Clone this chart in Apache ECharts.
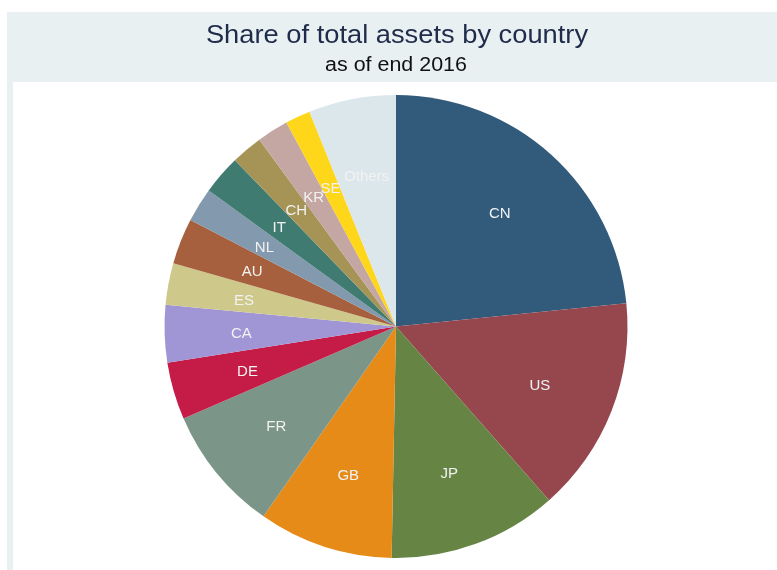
<!DOCTYPE html>
<html>
<head>
<meta charset="utf-8">
<script src="https://cdn.jsdelivr.net/npm/echarts@6/dist/echarts.min.js"></script>
<style>
  html, body { margin: 0; padding: 0; background: #ffffff; }
  #chart { width: 777px; height: 570px; }
</style>
</head>
<body>
<div id="chart"></div>
<script>
// Country codes, clockwise from 12 o'clock
const countries = ['CN', 'US', 'JP', 'GB', 'FR', 'DE', 'CA', 'ES', 'AU', 'NL', 'IT', 'CH', 'KR', 'SE', 'Others'];
// Share of total assets (%), end 2016
const shares = [23.4, 15.1, 11.8, 9.4, 8.8, 4.0, 4.0, 2.9, 3.2, 2.4, 2.75, 2.2, 2.2, 1.75, 6.1];
const sliceColors = ['#315a7b', '#96474e', '#668443', '#e68b17', '#7b9689', '#c41c46', '#a096d6',
                     '#cec98b', '#a6603e', '#8399ae', '#407b71', '#a69456', '#c4a7a3', '#fed61a', '#dce7ec'];

const titleText = 'Share of total assets by country';
const subtitleText = 'as of end 2016';

const pieData = countries.map((c, i) => ({ name: c, value: shares[i] }));

const cx = 396, cy = 326.5, R = 231.5;
const band = '#e8f0f2';

const chart = echarts.init(document.getElementById('chart'), null, { renderer: 'canvas' });
chart.setOption({
  animation: false,
  backgroundColor: '#ffffff',
  color: sliceColors,
  graphic: [
    { type: 'rect', z: -10, shape: { x: 7, y: 12, width: 770, height: 70 }, style: { fill: band } },
    { type: 'rect', z: -10, shape: { x: 7, y: 82, width: 6, height: 488 }, style: { fill: band } },
    {
      type: 'text', x: 397, y: 36, scaleX: 1.07,
      style: {
        text: titleText, fill: '#1f2b4a', font: '25.5px "Liberation Sans", Arial, sans-serif',
        textAlign: 'center', textVerticalAlign: 'middle'
      }
    },
    {
      type: 'text', x: 396, y: 66, scaleX: 1.1,
      style: {
        text: subtitleText, fill: '#111111', font: '19.5px "Liberation Sans", Arial, sans-serif',
        textAlign: 'center', textVerticalAlign: 'middle'
      }
    }
  ],
  series: [
    {
      // filled slices
      type: 'pie',
      center: [cx, cy],
      radius: [0, R],
      startAngle: 90,
      clockwise: true,
      silent: true,
      avoidLabelOverlap: false,
      label: { show: false },
      labelLine: { show: false },
      itemStyle: { borderWidth: 0 },
      data: pieData
    },
    {
      // transparent ring that carries the slice labels at ~2/3 of the radius
      type: 'pie',
      center: [cx, cy],
      radius: [R * 0.31, R],
      startAngle: 90,
      clockwise: true,
      silent: true,
      avoidLabelOverlap: false,
      minShowLabelAngle: 0,
      itemStyle: { color: 'rgba(0,0,0,0)', borderWidth: 0 },
      label: {
        show: true,
        position: 'inside',
        formatter: '{b}',
        color: '#f2f2f2',
        fontFamily: '"Liberation Sans", Arial, sans-serif',
        fontSize: 15,
        offset: [0, 2.5]
      },
      labelLayout: { hideOverlap: false },
      labelLine: { show: false },
      data: pieData
    }
  ]
});
</script>
</body>
</html>
